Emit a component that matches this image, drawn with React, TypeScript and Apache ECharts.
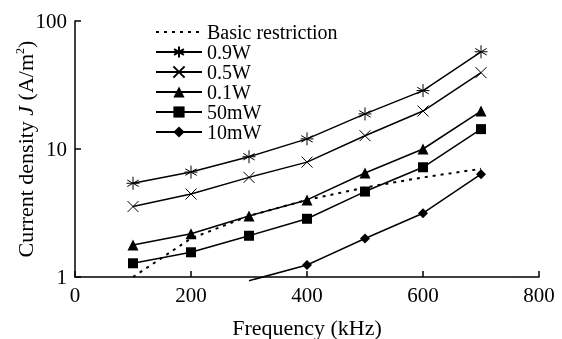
import React, { useEffect, useRef } from "react";
import * as echarts from "echarts";

const frequencies = [100, 200, 300, 400, 500, 600, 700];
const basicRestriction = [1.0, 2.0, 3.0, 4.0, 5.0, 6.0, 7.0];
const w09 = [5.4, 6.6, 8.7, 12.0, 18.8, 28.6, 57.5];
const w05 = [3.55, 4.45, 6.0, 7.9, 12.7, 19.8, 39.5];
const w01 = [1.78, 2.18, 3.0, 4.0, 6.5, 10.0, 19.8];
const mw50 = [1.28, 1.56, 2.1, 2.85, 4.65, 7.2, 14.3];
const mw10 = [null, null, 0.935, 1.24, 2.0, 3.15, 6.35];
const xTicks = [0, 200, 400, 600, 800];
const yTicks = [1, 10, 100];

const FONT = "Liberation Serif";

const ASTERISK = "path://M5,0L5,10M0.6,2.5L9.4,7.5M0.6,7.5L9.4,2.5M0,5L10,5";
const CROSS = "path://M0,0L10,10M0,10L10,0";

function pairs(vals: (number | null)[]) {
  return frequencies
    .map((f, i) => (vals[i] == null ? null : [f, vals[i]]))
    .filter((p) => p !== null);
}

export default function App() {
  const ref = useRef<HTMLDivElement>(null);
  useEffect(() => {
    if (!ref.current) return;
    const chart = echarts.init(ref.current, null, { renderer: "svg" });
    const lineStyle = { color: "#000", width: 1.5 };
    const mk = (name: string, vals: (number | null)[], symbol: string, size: number, stroke: boolean) => ({
      name,
      type: "line",
      data: pairs(vals).map((p: any, i: number) =>
        name === "10mW" && i === 0 ? { value: p, symbol: "none" } : { value: p }
      ),
      symbol,
      symbolSize: size,
      showAllSymbol: true,
      clip: false,
      lineStyle,
      itemStyle: stroke
        ? { color: "#000", borderColor: "#000", borderWidth: 1 }
        : { color: "#000", borderWidth: 0 },
      z: 3,
    });
    chart.setOption({
      animation: false,
      textStyle: { fontFamily: FONT, color: "#000" },
      grid: { left: 75, right: 23, top: 21, bottom: 62, containLabel: false, outerBoundsMode: "none" },
      legend: {
        orient: "vertical",
        left: 150,
        top: 17,
        itemWidth: 46,
        itemHeight: 14,
        itemGap: 0,
        textStyle: { fontFamily: FONT, fontSize: 20, color: "#000", lineHeight: 20 },
        data: ["Basic restriction", "0.9W", "0.5W", "0.1W", "50mW", "10mW"],
      },
      xAxis: {
        type: "value",
        min: xTicks[0],
        max: xTicks[xTicks.length - 1],
        interval: 200,
        name: "Frequency (kHz)",
        nameLocation: "middle",
        nameGap: 39,
        nameMoveOverlap: false,
        nameTextStyle: { fontFamily: FONT, fontSize: 22, color: "#000" },
        axisLine: { lineStyle: { color: "#000", width: 1.5 } },
        axisTick: { inside: true, length: 6, lineStyle: { color: "#000", width: 1.5 } },
        axisLabel: { fontFamily: FONT, fontSize: 21, color: "#000", margin: 7 },
        splitLine: { show: false },
      },
      yAxis: {
        type: "log",
        logBase: 10,
        min: yTicks[0],
        max: yTicks[yTicks.length - 1],
        name: "Current density {i|J} (A/m{s|2})",
        nameLocation: "middle",
        nameGap: 39,
        nameMoveOverlap: false,
        nameTextStyle: {
          fontFamily: FONT,
          fontSize: 22,
          color: "#000",
          rich: {
            i: { fontFamily: FONT, fontSize: 22, fontStyle: "italic", color: "#000" },
            s: { fontFamily: FONT, fontSize: 12, color: "#000", verticalAlign: "top", padding: [0, 0, 10, 0] },
          },
        },
        axisLine: { show: true, lineStyle: { color: "#000", width: 1.5 } },
        axisTick: { inside: true, length: 6, lineStyle: { color: "#000", width: 1.5 } },
        axisLabel: { fontFamily: FONT, fontSize: 21, color: "#000", margin: 8 },
        splitLine: { show: false },
        minorTick: { show: false },
      },
      series: [
        {
          name: "Basic restriction",
          type: "line",
          data: pairs(basicRestriction),
          symbol: "none",
          lineStyle: { color: "#000", width: 2, type: [3, 5] },
          itemStyle: { color: "rgba(0,0,0,0)" },
          z: 2,
        },
        mk("0.9W", w09, ASTERISK, 13, true),
        mk("0.5W", w05, CROSS, 11, true),
        mk("0.1W", w01, "triangle", 11, false),
        mk("50mW", mw50, "rect", 10, false),
        mk("10mW", mw10, "diamond", 10, false),
      ],
    });
    return () => chart.dispose();
  }, []);
  return (
    <div
      ref={ref}
      style={{ position: "fixed", left: 0, top: 0, width: 562, height: 339 }}
    />
  );
}
